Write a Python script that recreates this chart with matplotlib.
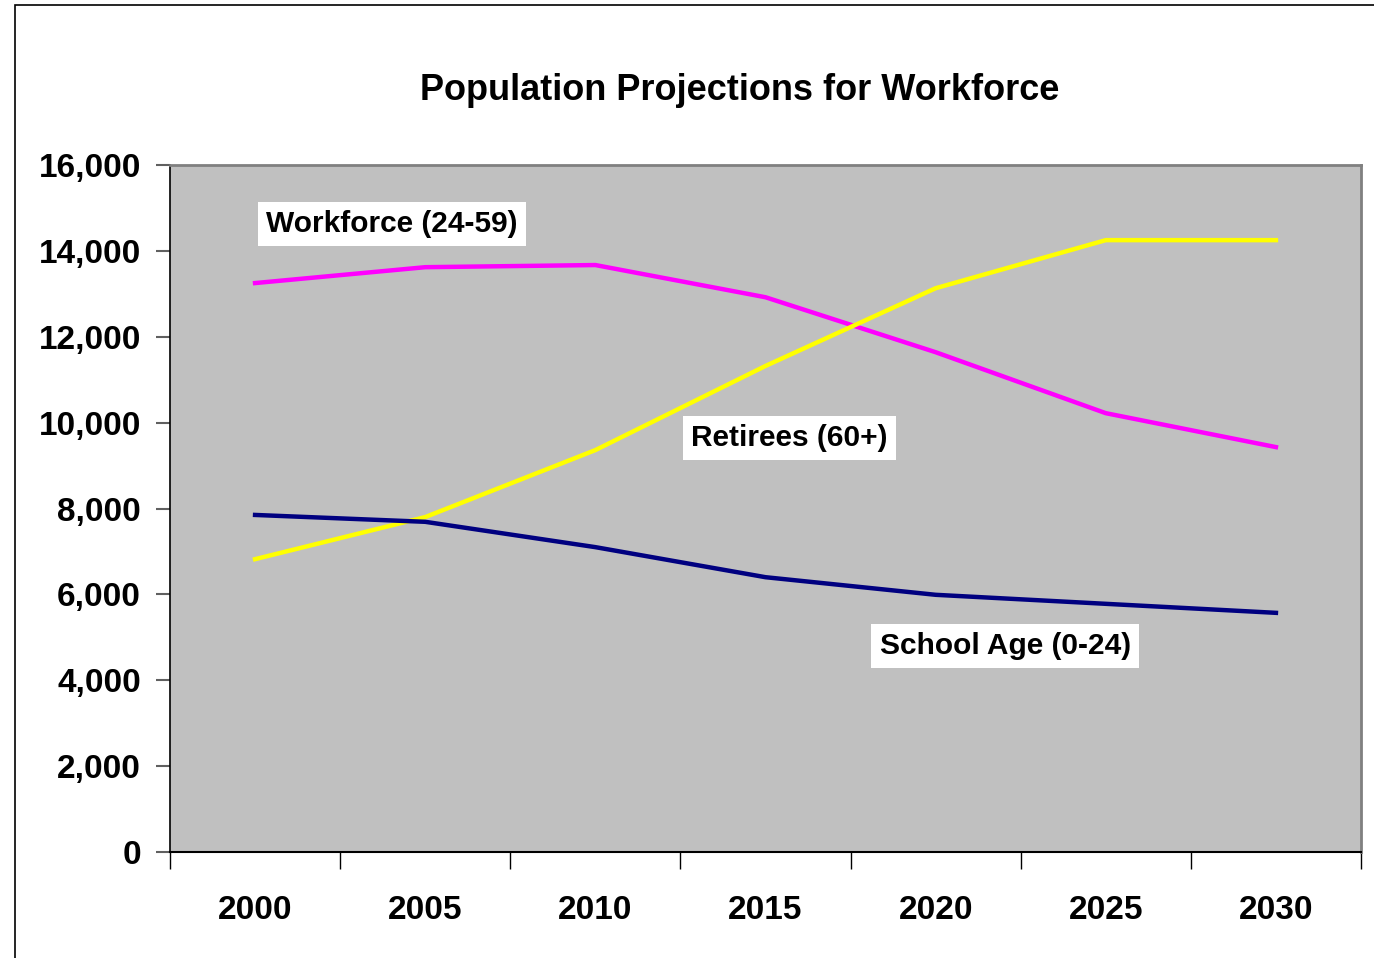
import matplotlib
matplotlib.use("Agg")
import matplotlib.pyplot as plt
from matplotlib.patches import Rectangle
from matplotlib.ticker import FuncFormatter, FixedLocator

plt.rcParams['font.family'] = ['Liberation Sans', 'DejaVu Sans']

years = ["2000", "2005", "2010", "2015", "2020", "2025", "2030"]
workforce = [13250, 13620, 13670, 12920, 11640, 10220, 9430]
retirees = [6820, 7800, 9360, 11320, 13130, 14250, 14250]
school_age = [7850, 7690, 7100, 6400, 5990, 5780, 5570]

fig = plt.figure(figsize=(13.74, 9.58), dpi=100)
fig.patch.set_facecolor("white")
fig.patches.append(Rectangle((15 / 1374, -0.1), 1.2, (958 - 5) / 958 + 0.1,
                             transform=fig.transFigure, fill=False,
                             edgecolor="black", linewidth=1.2))

ax = fig.add_axes([170 / 1374, 1 - 852 / 958, (1361 - 170) / 1374, (852 - 165) / 958])
ax.set_facecolor("#C0C0C0")

x = list(range(len(years)))
ax.plot(x, workforce, color="#FF00FF", linewidth=3.2, solid_joinstyle="miter")
ax.plot(x, retirees, color="#FFFF00", linewidth=3.2, solid_joinstyle="miter")
ax.plot(x, school_age, color="#000080", linewidth=3.2, solid_joinstyle="miter")

ax.set_xlim(-0.5, len(years) - 0.5)
ax.set_ylim(0, 16000)
ax.set_yticks(range(0, 16001, 2000))
ax.yaxis.set_major_formatter(FuncFormatter(lambda v, p: f"{int(v):,}"))

ax.set_xticks(x)
ax.set_xticklabels(years)
ax.xaxis.set_minor_locator(FixedLocator([i - 0.5 for i in range(len(years) + 1)]))
ax.tick_params(axis="x", which="major", length=0, pad=31, labelsize=24)
ax.tick_params(axis="x", which="minor", length=12, width=1, color="black", direction="out")
ax.tick_params(axis="y", which="major", length=10, width=1.5, color="#606060",
               direction="out", labelsize=24, pad=11)
for lab in ax.get_xticklabels() + ax.get_yticklabels():
    lab.set_fontweight("bold")

for side in ["top", "right"]:
    ax.spines[side].set_color("#808080")
    ax.spines[side].set_linewidth(2)
ax.spines["left"].set_color("black")
ax.spines["bottom"].set_color("black")
ax.spines["left"].set_linewidth(1.2)
ax.spines["bottom"].set_linewidth(1.5)

box = dict(facecolor="white", edgecolor="none", pad=6)
ax.text(0.806, 14625, "Workforce (24-59)", fontsize=21.5, fontweight="bold",
        ha="center", va="center", bbox=box)
ax.text(3.14, 9640, "Retirees (60+)", fontsize=21.5, fontweight="bold",
        ha="center", va="center", bbox=box)
ax.text(4.41, 4800, "School Age (0-24)", fontsize=21.5, fontweight="bold",
        ha="center", va="center", bbox=box)

fig.text(740 / 1374, 1 - 91 / 958, "Population Projections for Workforce",
         fontsize=26, fontweight="bold", ha="center", va="center")

fig.savefig("out.png", dpi=100)
